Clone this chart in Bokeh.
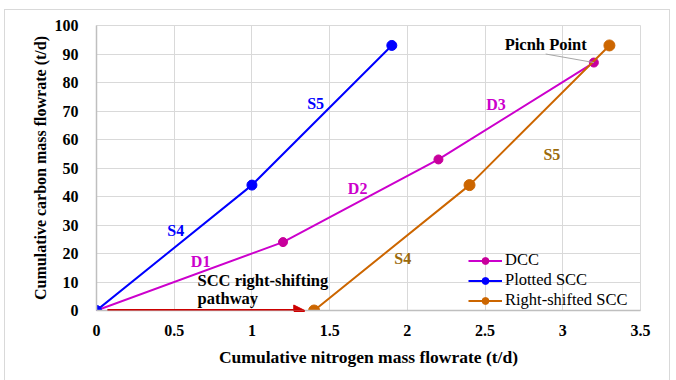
from bokeh.plotting import figure
from bokeh.models import Legend, LegendItem, Arrow, NormalHead, ColumnDataSource, FixedTicker
from bokeh.core.properties import value
from bokeh.embed import file_html
from bokeh.resources import INLINE

# Composite-curve data (cumulative N vs cumulative C, t/d)
dcc_n = [0.0, 1.2, 2.2, 3.2]
dcc_c = [0.0, 24.0, 53.0, 87.0]

scc_n = [0.0, 1.0, 1.9]
scc_c = [0.0, 44.0, 93.0]

shift = 1.4
shifted_n = [n + shift for n in scc_n]
shifted_c = list(scc_c)

x_ticks = [0, 0.5, 1, 1.5, 2, 2.5, 3, 3.5]
x_tick_labels = ["0", "0.5", "1", "1.5", "2", "2.5", "3", "3.5"]
y_ticks = [0, 10, 20, 30, 40, 50, 60, 70, 80, 90, 100]

# Segment labels: (text, x, y, colour)
seg_labels = [
    ("S4", 0.51, 28.0, "#0000ff"),
    ("S5", 1.41, 72.5, "#0000ff"),
    ("D1", 0.67, 17.2, "#cc00cc"),
    ("D2", 1.68, 42.8, "#cc00cc"),
    ("D3", 2.57, 72.3, "#cc00cc"),
    ("S4", 1.97, 18.2, "#9c6a0a"),
    ("S5", 2.93, 54.7, "#9c6a0a"),
]

SERIF = "Liberation Serif"

p = figure(width=666, height=380, x_range=(0, 3.5), y_range=(0, 100),
           output_backend="svg", toolbar_location=None,
           min_border_left=91, min_border_right=31,
           min_border_top=15, min_border_bottom=80,
           background_fill_color="white", border_fill_color="white")
p.margin = (9, 0, 0, 4)
p.styles = {"border": "1px solid #d9d9d9"}

p.outline_line_color = "#d9d9d9"
p.xgrid.grid_line_color = "#d9d9d9"
p.ygrid.grid_line_color = "#d9d9d9"
p.xaxis.ticker = FixedTicker(ticks=x_ticks)
p.yaxis.ticker = FixedTicker(ticks=y_ticks)
p.xaxis.major_label_overrides = {t: l for t, l in zip(x_ticks, x_tick_labels)}

for ax in (p.xaxis, p.yaxis):
    ax.axis_line_color = "#bfbfbf"
    ax.axis_line_width = 1.5
    ax.major_tick_line_color = None
    ax.minor_tick_line_color = None
    ax.major_label_text_font = SERIF
    ax.major_label_text_font_style = "bold"
    ax.major_label_text_font_size = "16px"
    ax.major_label_text_color = "black"
    ax.axis_label_text_font = SERIF
    ax.axis_label_text_font_style = "bold"
    ax.axis_label_text_color = "black"

p.xaxis.axis_label = "Cumulative nitrogen mass flowrate (t/d)"
p.yaxis.axis_label = "Cumulative carbon mass flowrate (t/d)"
p.xaxis.axis_label_text_font_size = "17.5px"
p.yaxis.axis_label_text_font_size = "16px"
p.xaxis.major_label_standoff = 8
p.yaxis.major_label_standoff = 12
p.xaxis.axis_label_standoff = 8
p.yaxis.axis_label_standoff = 3

# Right-shifting pathway arrow
p.add_layout(Arrow(end=NormalHead(size=11, fill_color="#cc0000", line_color="#cc0000"),
                   x_start=0.07, y_start=0, x_end=1.34, y_end=0,
                   line_color="#cc0000", line_width=3))

# Curves
dcc_line = p.line(dcc_n, dcc_c, line_color="#cc00cc", line_width=2)
dcc_pts = p.scatter(dcc_n, dcc_c, size=9, fill_color="#c8009c", line_color="#c8009c")

scc_line = p.line(scc_n, scc_c, line_color="#0000ff", line_width=2)
scc_pts = p.scatter(scc_n, scc_c, size=10, fill_color="#0000ff", line_color="#0000ff")

sh_line = p.line(shifted_n, shifted_c, line_color="#cc6600", line_width=2)
sh_pts = p.scatter(shifted_n, shifted_c, size=11, fill_color="#cc6600", line_color="#cc6600")

# Segment labels
src = ColumnDataSource(dict(
    t=[s[0] for s in seg_labels], x=[s[1] for s in seg_labels],
    y=[s[2] for s in seg_labels], c=[s[3] for s in seg_labels]))
p.text("x", "y", text="t", text_color="c", source=src,
       text_font=value(SERIF), text_font_style="bold", text_font_size="16px",
       text_align="center", text_baseline="middle")

# Pinch point callout
pinch_x, pinch_y = dcc_n[-1], dcc_c[-1]
p.segment(x0=[2.89], y0=[90.0], x1=[pinch_x], y1=[pinch_y],
          line_color="#a6a6a6", line_width=1)
p.text([2.89], [93.4], text=["Picnh Point"], text_color="black",
       text_font=value(SERIF), text_font_style="bold", text_font_size="16.5px",
       text_align="center", text_baseline="middle")

p.text([0.65, 0.65], [10.6, 4.2], text=["SCC right-shifting", "pathway"],
       text_color="black", text_font=value(SERIF), text_font_style="bold",
       text_font_size="16.5px", text_align="left", text_baseline="middle")

legend = Legend(items=[
    LegendItem(label="DCC", renderers=[dcc_line, dcc_pts]),
    LegendItem(label="Plotted SCC", renderers=[scc_line, scc_pts]),
    LegendItem(label="Right-shifted SCC", renderers=[sh_line, sh_pts]),
], location=(372, 0))
legend.background_fill_alpha = 0
legend.border_line_color = None
legend.padding = 0
legend.margin = 0
legend.spacing = 0
legend.glyph_width = 34
legend.glyph_height = 17
legend.label_height = 17
legend.label_standoff = 3
legend.label_text_font = SERIF
legend.label_text_font_size = "16.5px"
legend.label_text_color = "black"
p.add_layout(legend)

open("out.html", "w").write(file_html(p, INLINE))
